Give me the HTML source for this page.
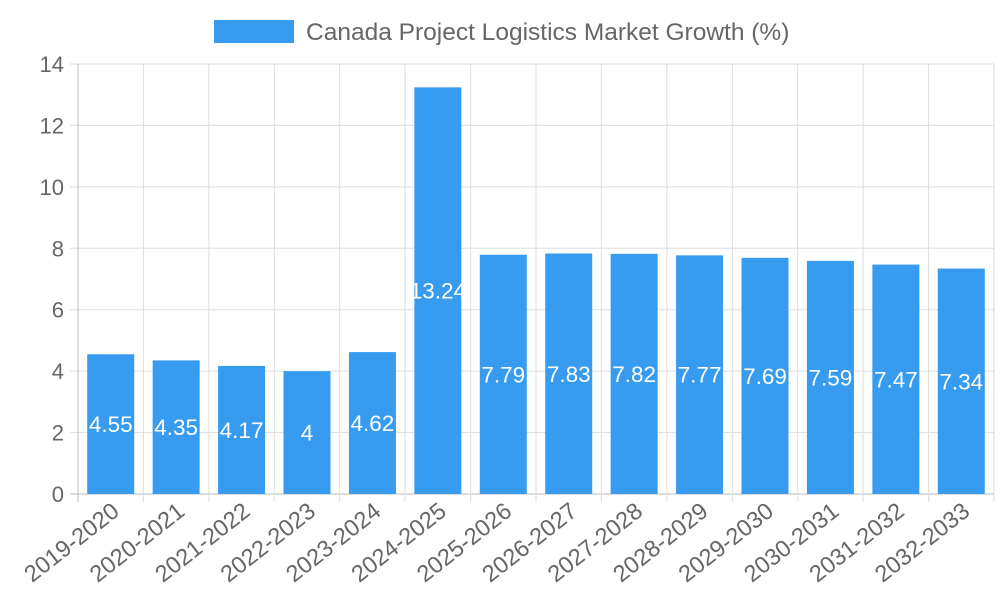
<!DOCTYPE html>
<html><head><meta charset="utf-8"><style>
body{margin:0;background:#fff;}
svg{font-family:"Liberation Sans",sans-serif;}
</style></head><body>
<svg id="chart" width="1000" height="600">
<g>
<rect x="214" y="20" width="80" height="23" fill="#379cf0"/>
<text x="306" y="40" font-size="24.5" fill="#666">Canada Project Logistics Market Growth (%)</text>
</g>
<g id="grid"></g><g id="bars"></g><g id="labels"></g>
</svg>
<script>
const categories=["2019-2020","2020-2021","2021-2022","2022-2023","2023-2024","2024-2025","2025-2026","2026-2027","2027-2028","2028-2029","2029-2030","2030-2031","2031-2032","2032-2033"];
const values=[4.55,4.35,4.17,4,4.62,13.24,7.79,7.83,7.82,7.77,7.69,7.59,7.47,7.34];
const yTicks=[0,2,4,6,8,10,12,14];
const NS="http://www.w3.org/2000/svg";
const L=78,R=994,T=64,B=494,yMax=14;
const step=(R-L)/categories.length;
const y=v=>B-(v/yMax)*(B-T);
const x=i=>L+step*i;
function mk(tag,attrs,parent){const e=document.createElementNS(NS,tag);for(const k in attrs)e.setAttribute(k,attrs[k]);parent.appendChild(e);return e;}
const grid=document.getElementById('grid'),bars=document.getElementById('bars'),labels=document.getElementById('labels');
yTicks.forEach(t=>{
 const ln=mk('line',{x1:70,x2:R,y1:y(t),y2:y(t),stroke:t===0?'#bbb':'#ddd','stroke-width':1},grid);
 
 
 const tx=mk('text',{x:64,y:y(t)+8,'text-anchor':'end','font-size':22,fill:'#666'},grid);
 tx.textContent=t;
 
 
});
for(let i=0;i<=categories.length;i++){
 const ln=mk('line',{x1:x(i),x2:x(i),y1:T,y2:B+8,stroke:i===0?'#bbb':'#ddd','stroke-width':1},grid);
 
 
}
const bw=47;
categories.forEach((c,i)=>{
 const cx=x(i)+step/2;
 const r=mk('rect',{x:cx-bw/2,y:y(values[i]),width:bw,height:B-y(values[i]),fill:'#379cf0'},bars);
 
 
 const v=mk('text',{x:cx,y:(y(values[i])+B)/2+8,'text-anchor':'middle','font-size':22.5,fill:'#fff'},labels);
 v.textContent=values[i];
 
 
 const t=mk('text',{x:cx+10,y:B+20,'text-anchor':'end','font-size':23.5,fill:'#666',transform:`rotate(-38 ${cx+10} ${B+20})`},labels);
 t.textContent=c;
 
 
});
</script>
</body></html>
